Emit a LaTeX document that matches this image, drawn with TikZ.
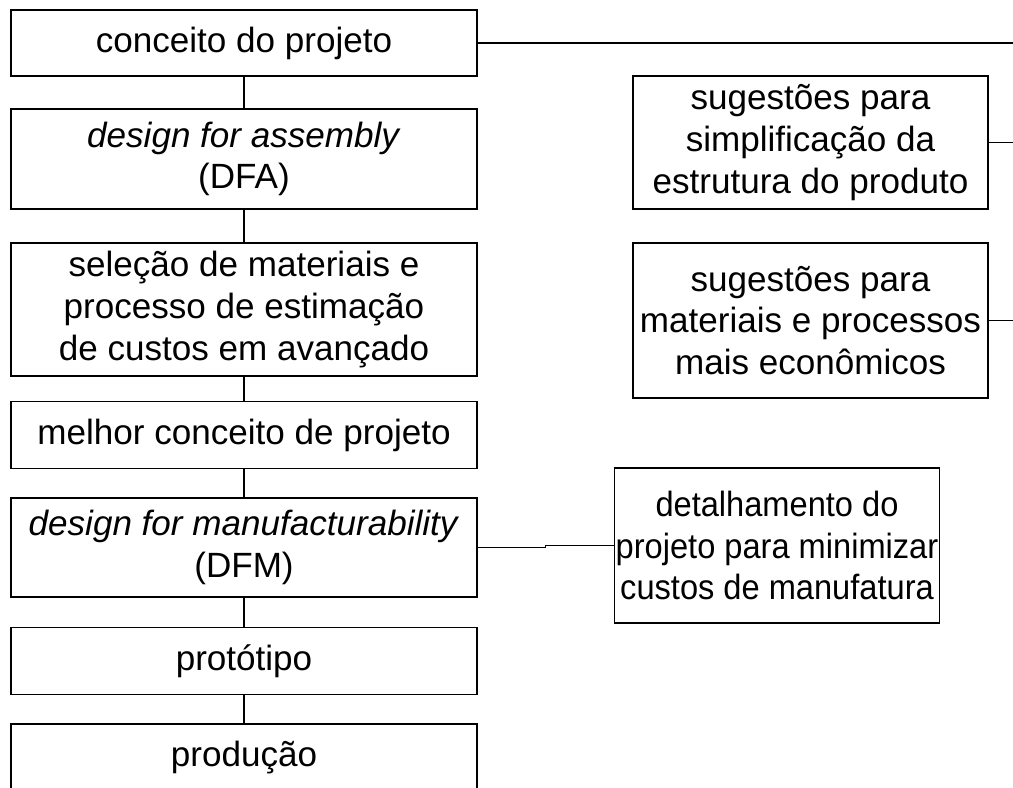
\documentclass[tikz,border=0pt]{standalone}
\usepackage{fontspec}
\setmainfont{Liberation Sans}
\newfontfamily\narrowsans[FakeStretch=0.93]{Liberation Sans}
\usetikzlibrary{positioning}

\begin{document}
\begin{tikzpicture}[ x=0.75pt , y=-0.75pt , line width=0.8pt ,
  box/.style={ draw , align=center , inner sep=1pt , minimum width=349.5pt ,
    font=\fontsize{26.3}{31.3}\selectfont } ,
  side/.style={ box , minimum width=266.25pt , minimum height=116.25pt } ]
\clip (0,0) rectangle (1013,788);
\node [ box , minimum height=49.5pt ] (conceito) at (244,43) {conceito do projeto};
\node [ box , minimum height=75pt ] (dfa) at (244,159) {\textit{design for assembly}\\(DFA)};
\node [ box , minimum height=99.75pt ] (selecao) at (244,309.5) {sele\c{c}\~ao de materiais e\\processo de estima\c{c}\~ao\\de custos em avan\c{c}ado};
\node [ box , minimum height=50.25pt ] (melhor) at (244,435) {melhor conceito de projeto};
\node [ box , minimum height=74.25pt ] (dfm) at (244,547.5) {\textit{design for manufacturability}\\(DFM)};
\node [ box , minimum height=50.25pt ] (prototipo) at (244,661) {prot\'otipo};
\node [ box , minimum height=50.25pt ] (producao) at (244,757.5) {produ\c{c}\~ao};
\node [ side , minimum height=99.75pt ] (simpl) at (810.5,142.5) {sugest\~oes para\\simplifica\c{c}\~ao da\\estrutura do produto};
\node [ side ] (econ) at (810.5,320.5) {sugest\~oes para\\materiais e processos\\mais econ\^omicos};
\node [ side , minimum width=243pt , font=\narrowsans\fontsize{26.3}{31.3}\selectfont ] (detal) at (777,545.5) {detalhamento do\\projeto para minimizar\\custos de manufatura};
\coordinate (c_0) at (1013,43);
\coordinate (c_1) at (1013,142.5);
\coordinate (c_2) at (1013,320.5);
\path [draw]
(conceito) edge (dfa)
edge (c_0)
(dfa) edge (selecao)
(selecao) edge (melhor)
(melhor) edge (dfm)
(dfm) edge (prototipo)
(prototipo) edge (producao)
(simpl) edge (c_1)
(econ) edge (c_2);
\draw (dfm.east) -- ++(68,0) |- (detal.west);
\end{tikzpicture}
\end{document}
